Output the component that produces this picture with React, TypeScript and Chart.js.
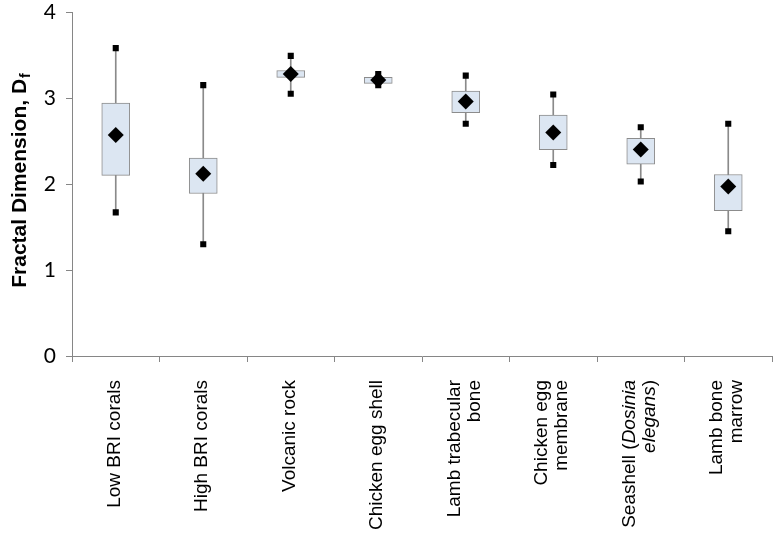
import React, { useEffect, useRef } from "react";
import { Chart, registerables } from "chart.js";

Chart.register(...registerables);

const categories = [
  "Low BRI corals",
  "High BRI corals",
  "Volcanic rock",
  "Chicken egg shell",
  "Lamb trabecular bone",
  "Chicken egg membrane",
  "Seashell (Dosinia elegans)",
  "Lamb bone marrow",
];
// label lines; *...* marks italic text
const labelLines = [
  ["Low BRI corals"],
  ["High BRI corals"],
  ["Volcanic rock"],
  ["Chicken egg shell"],
  ["Lamb trabecular", "bone"],
  ["Chicken egg", "membrane"],
  ["Seashell (*Dosinia*", "*elegans*)"],
  ["Lamb bone", "marrow"],
];
const maxV = [3.58, 3.15, 3.49, 3.28, 3.26, 3.04, 2.66, 2.7];
const q3 = [2.94, 2.3, 3.32, 3.24, 3.08, 2.8, 2.53, 2.11];
const q1 = [2.1, 1.89, 3.24, 3.17, 2.83, 2.4, 2.23, 1.69];
const minV = [1.67, 1.3, 3.05, 3.15, 2.7, 2.22, 2.03, 1.45];
const meanV = [2.57, 2.12, 3.28, 3.21, 2.96, 2.6, 2.4, 1.97];
const yTicks = [0, 1, 2, 3, 4];
const yTitle = "Fractal Dimension, D";
const yTitleSub = "f";

const AXIS = "#868686";

const customText = {
  id: "customText",
  afterDraw(chart: any) {
    const ctx = chart.ctx;
    const area = chart.chartArea;
    const xs = chart.scales.x;
    // y title with subscript
    ctx.save();
    const cy = (area.top + area.bottom) / 2 - 3;
    ctx.translate(19, cy);
    ctx.rotate(-Math.PI / 2);
    ctx.fillStyle = "#000";
    ctx.textBaseline = "alphabetic";
    ctx.font = "bold 21px 'Liberation Sans', Arial, sans-serif";
    const w1 = ctx.measureText(yTitle).width;
    ctx.font = "bold 14px 'Liberation Sans', Arial, sans-serif";
    const w2 = ctx.measureText(yTitleSub).width;
    const start = -(w1 + w2) / 2;
    ctx.font = "bold 21px 'Liberation Sans', Arial, sans-serif";
    ctx.textAlign = "left";
    ctx.fillText(yTitle, start, 7);
    ctx.font = "bold 14px 'Liberation Sans', Arial, sans-serif";
    ctx.fillText(yTitleSub, start + w1 + 1, 11);
    ctx.restore();

    // x labels
    const lh = 20;
    const topY = area.bottom + 24;
    labelLines.forEach((lines, i) => {
      const cx = xs.getPixelForValue(i) - 2;
      lines.forEach((line, j) => {
        const lx = cx + (j - (lines.length - 1) / 2) * lh;
        const segs = line.split("*").map((t, k) => ({ t, it: k % 2 === 1 })).filter((s) => s.t.length);
        ctx.save();
        ctx.translate(lx, topY);
        ctx.rotate(-Math.PI / 2);
        ctx.fillStyle = "#000";
        ctx.textBaseline = "middle";
        ctx.textAlign = "left";
        const fontFor = (it: boolean) => `${it ? "italic " : ""}19px 'Liberation Sans', Arial, sans-serif`;
        let total = 0;
        const widths = segs.map((s) => {
          ctx.font = fontFor(s.it);
          const w = ctx.measureText(s.t).width;
          total += w;
          return w;
        });
        let x = -total;
        segs.forEach((s, k) => {
          ctx.font = fontFor(s.it);
          ctx.fillText(s.t, x, 1);
          x += widths[k];
        });
        ctx.restore();
      });
    });
  },
};

export default function App() {
  const ref = useRef<HTMLCanvasElement>(null);
  useEffect(() => {
    const chart = new Chart(ref.current as HTMLCanvasElement, {
      type: "bar",
      data: {
        labels: categories,
        datasets: [
          {
            type: "line",
            label: "Mean",
            data: meanV,
            showLine: false,
            pointStyle: "rectRot",
            pointRadius: 8,
            pointBackgroundColor: "#000",
            pointBorderColor: "#000",
            pointBorderWidth: 0,
            order: 0,
          } as any,
          {
            type: "line",
            label: "Max",
            data: maxV,
            showLine: false,
            pointStyle: "rect",
            pointRadius: 4.3,
            pointBackgroundColor: "#000",
            pointBorderWidth: 0,
            order: 1,
          } as any,
          {
            type: "line",
            label: "Min",
            data: minV,
            showLine: false,
            pointStyle: "rect",
            pointRadius: 4.3,
            pointBackgroundColor: "#000",
            pointBorderWidth: 0,
            order: 1,
          } as any,
          {
            type: "bar",
            label: "Box",
            data: q1.map((v, i) => [v, q3[i]]),
            backgroundColor: "#dce6f2",
            borderColor: "#8c8c8c",
            borderWidth: 1,
            borderSkipped: false,
            barThickness: 28,
            grouped: false,
            order: 2,
          } as any,
          {
            type: "bar",
            label: "Whisker",
            data: minV.map((v, i) => [v, maxV[i]]),
            backgroundColor: "#8a8a8a",
            borderWidth: 0,
            barThickness: 1,
            grouped: false,
            order: 3,
          } as any,
        ],
      },
      options: {
        animation: false,
        responsive: false,
        devicePixelRatio: 1,
        layout: { padding: { top: 12, right: 7, left: 0, bottom: 0 } },
        plugins: { legend: { display: false }, tooltip: { enabled: false } },
        scales: {
          x: {
            type: "category",
            offset: true,
            grid: { offset: true, drawOnChartArea: false, drawTicks: true, tickLength: 6, color: AXIS },
            border: { color: AXIS, width: 1 },
            ticks: { display: false },
            afterFit: (s: any) => {
              s.height = 183;
              s.paddingLeft = 0;
              s.paddingRight = 0;
            },
          },
          y: {
            min: 0,
            max: 4,
            afterBuildTicks: (s: any) => {
              s.ticks = yTicks.map((v) => ({ value: v }));
            },
            grid: { drawOnChartArea: false, drawTicks: true, tickLength: 6, color: AXIS },
            border: { color: AXIS, width: 1 },
            ticks: {
              color: "#000",
              padding: 10,
              font: { family: "Lato, 'Open Sans', sans-serif", size: 21 },
            },
            afterFit: (s: any) => {
              s.width = 72;
              s.paddingTop = 0;
              s.paddingBottom = 0;
            },
          },
        },
      } as any,
      plugins: [customText],
    });
    return () => chart.destroy();
  }, []);
  return (
    <div style={{ position: "fixed", left: 0, top: 0, width: 780, height: 539, background: "#fff" }}>
      <canvas ref={ref} width={780} height={539} />
    </div>
  );
}
